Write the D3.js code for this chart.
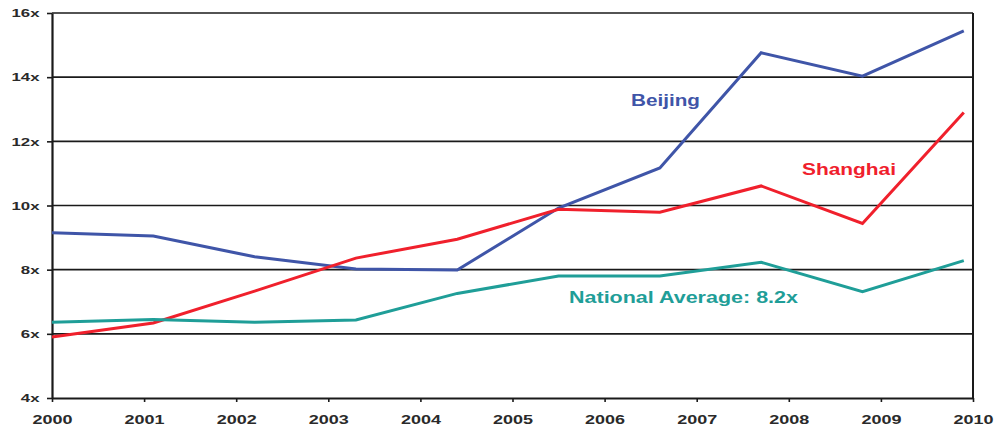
<!DOCTYPE html>
<html>
<head>
<meta charset="utf-8">
<script src="https://cdn.jsdelivr.net/npm/d3@7/dist/d3.min.js"></script>
<style>
  html, body { margin: 0; padding: 0; background: #fff; }
  svg { display: block; }
  text { font-family: "Liberation Sans", Arial, sans-serif; }
</style>
</head>
<body>
<svg id="chart" width="994" height="425"></svg>
<script>
// ---- data ----
const yearLabels = [2000, 2001, 2002, 2003, 2004, 2005, 2006, 2007, 2008, 2009, 2010];
const periods = [2000, 2001.1, 2002.2, 2003.3, 2004.4, 2005.5, 2006.6, 2007.7, 2008.8, 2009.9];
const beijing  = [9.15, 9.05, 8.40, 8.02, 7.99, 9.92, 11.17, 14.76, 14.03, 15.44];
const shanghai = [5.90, 6.34, 7.33, 8.36, 8.95, 9.88, 9.79, 10.61, 9.44, 12.90];
const national = [6.36, 6.45, 6.36, 6.43, 7.26, 7.80, 7.80, 8.23, 7.31, 8.28];
const yTicks = [4, 6, 8, 10, 12, 14, 16];
const seriesNames = ["Beijing", "Shanghai", "National Average: 8.2x"];
const seriesColors = ["#3f55a8", "#f0202c", "#1f9e98"];

// ---- layout ----
const W = 994, H = 425;
const m = { left: 52, right: 21, top: 13, bottom: 27 };
const svg = d3.select("#chart");

const x = d3.scaleLinear().domain([2000, 2010]).range([m.left, W - m.right]);
const y = d3.scaleLinear().domain([4, 16]).range([H - m.bottom, m.top]);

// gridlines
svg.append("g").selectAll("line")
  .data(yTicks.filter(d => d > 4))
  .join("line")
  .attr("x1", x(2000)).attr("x2", x(2010))
  .attr("y1", d => y(d)).attr("y2", d => y(d))
  .attr("stroke", "#1a1a1a").attr("stroke-width", 1.6);

// right border
svg.append("line")
  .attr("x1", x(2010)).attr("x2", x(2010))
  .attr("y1", y(16)).attr("y2", y(4))
  .attr("stroke", "#1a1a1a").attr("stroke-width", 2);

// y axis
const yAxis = svg.append("g")
  .attr("transform", `translate(${m.left},0)`)
  .call(d3.axisLeft(y).tickValues(yTicks).tickFormat(d => d + "x").tickSize(5).tickSizeOuter(0));
yAxis.select(".domain").attr("stroke", "#1a1a1a").attr("stroke-width", 2.2);
yAxis.selectAll(".tick line").attr("stroke", "#1a1a1a").attr("stroke-width", 1.6);
const ysx = 1.6;
yAxis.selectAll(".tick text")
  .attr("font-size", 10.5).attr("font-weight", "bold").attr("fill", "#2a2a2a")
  .attr("x", -12.5 / ysx).attr("dy", "0.36em")
  .attr("transform", `scale(${ysx},1)`);

// x axis
const xAxis = svg.append("g")
  .attr("transform", `translate(0,${y(4)})`)
  .call(d3.axisBottom(x).tickValues(yearLabels).tickFormat(d3.format("d")).tickSize(4).tickSizeOuter(0));
xAxis.select(".domain").attr("stroke", "#1a1a1a").attr("stroke-width", 2.2);
xAxis.selectAll(".tick line").attr("stroke", "#1a1a1a").attr("stroke-width", 1.6);
const xsx = 1.5;
xAxis.selectAll(".tick text")
  .attr("font-size", 12).attr("font-weight", "bold").attr("fill", "#2a2a2a")
  .attr("y", 26).attr("dy", 0)
  .attr("transform", `scale(${xsx},1)`);

// lines
const line = d3.line().x((d, i) => x(periods[i])).y(d => y(d));
const allSeries = [beijing, shanghai, national];
svg.append("g").selectAll("path")
  .data(allSeries)
  .join("path")
  .attr("d", d => line(d))
  .attr("fill", "none")
  .attr("stroke", (d, i) => seriesColors[i])
  .attr("stroke-width", 3)
  .attr("stroke-linejoin", "miter");

// series labels
const labelPos = [
  { x: 631, y: 105.5, w: 69 },
  { x: 802, y: 175, w: 94 },
  { x: 569, y: 302.5, w: 229 }
];
svg.append("g").selectAll("text")
  .data(seriesNames)
  .join("text")
  .attr("x", (d, i) => labelPos[i].x)
  .attr("y", (d, i) => labelPos[i].y)
  .attr("textLength", (d, i) => labelPos[i].w)
  .attr("lengthAdjust", "spacingAndGlyphs")
  .attr("font-size", 16.5)
  .attr("font-weight", "bold")
  .attr("fill", (d, i) => seriesColors[i])
  .text(d => d);
</script>
</body>
</html>
